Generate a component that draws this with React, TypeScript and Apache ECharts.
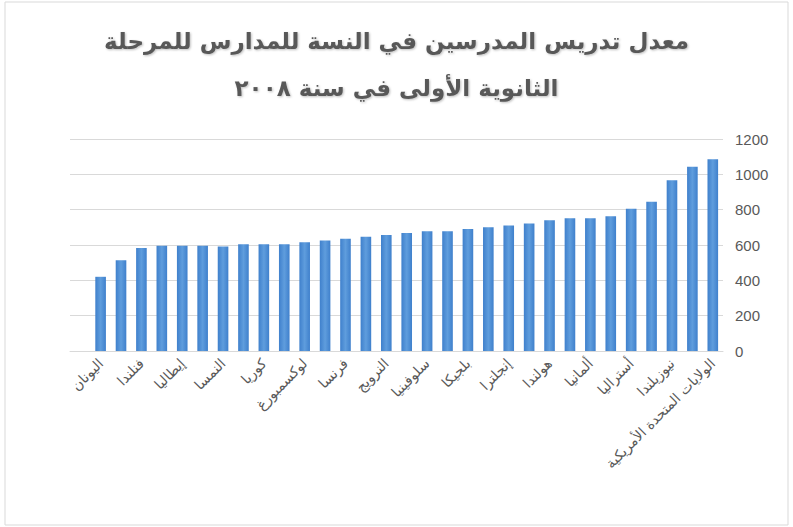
import React, { useEffect, useRef } from "react";
import * as echarts from "echarts";

const titleLines = [
  "معدل تدريس المدرسين في النسة للمدارس للمرحلة",
  "الثانوية الأولى في سنة ٢٠٠٨",
];

// first slot is an empty category (blank row in the source sheet)
const countries = [
  "",
  "اليونان",
  "بولندا",
  "فنلندا",
  "اليابان",
  "إيطاليا",
  "إسرائيل",
  "النمسا",
  "إستونيا",
  "كوريا",
  "آيسلندا",
  "لوكسمبورغ",
  "جمهورية التشيك",
  "فرنسا",
  "الدنمارك",
  "النرويج",
  "سلوفاكيا",
  "سلوفينيا",
  "السويد",
  "بلجيكا",
  "إسبانيا",
  "إنجلترا",
  "أيرلندا",
  "هولندا",
  "البرتغال",
  "ألمانيا",
  "المجر",
  "أستراليا",
  "اسكتلندا",
  "نيوزيلندا",
  "المكسيك",
  "الولايات المتحدة الأمريكية",
];

const teachingHours = [
  null, 420, 513, 583, 596, 596, 596, 592, 604, 604, 604, 615, 626, 636, 646,
  657, 668, 678, 678, 691, 700, 710, 721, 740, 751, 751, 763, 805, 845, 967,
  1043, 1085,
];

const yMin = 0;
const yMax = 1200;
const yStep = 200;

export default function App() {
  const ref = useRef<HTMLDivElement>(null);

  useEffect(() => {
    if (!ref.current) return;
    const chart = echarts.init(ref.current, undefined, { renderer: "svg" });
    chart.setOption({
      animation: false,
      backgroundColor: "#ffffff",
      title: {
        text: titleLines.join("\n"),
        left: "center",
        top: 12,
        textStyle: {
          fontFamily: "DejaVu Sans",
          fontWeight: "bold",
          fontSize: 23,
          lineHeight: 47,
          color: "#595959",
          textShadowColor: "rgba(0,0,0,0.25)",
          textShadowBlur: 2,
          textShadowOffsetX: 1,
          textShadowOffsetY: 1,
        },
      },
      graphic: [
        {
          type: "rect",
          shape: { x: 5, y: 2, width: 783, height: 523 },
          style: { fill: "none", stroke: "#d9d9d9", lineWidth: 1 },
          silent: true,
        },
      ],
      grid: { left: 70, right: 70, top: 139, bottom: 176 },
      xAxis: {
        type: "category",
        data: countries,
        axisTick: { show: false },
        axisLine: { show: true, lineStyle: { color: "#d9d9d9" } },
        axisLabel: {
          interval: (index: number) => index % 2 === 1,
          rotate: 45,
          margin: 10,
          fontFamily: "DejaVu Sans",
          fontSize: 14,
          color: "#595959",
        },
      },
      yAxis: {
        type: "value",
        position: "right",
        min: yMin,
        max: yMax,
        interval: yStep,
        axisLine: { show: false },
        axisTick: { show: false },
        splitLine: { lineStyle: { color: "#d9d9d9" } },
        axisLabel: {
          margin: 12,
          fontFamily: "Liberation Sans",
          fontSize: 15,
          color: "#595959",
          align: "left",
          formatter: (v: number) => String(v),
        },
      },
      series: [
        {
          type: "bar",
          data: teachingHours,
          barWidth: "52%",
          itemStyle: {
            color: new echarts.graphic.LinearGradient(0, 0, 1, 0, [
              { offset: 0, color: "#3f80cc" },
              { offset: 0.5, color: "#5f9ddd" },
              { offset: 1, color: "#3f80cc" },
            ]),
          },
        },
      ],
    });
    return () => chart.dispose();
  }, []);

  return (
    <div style={{ position: "fixed", left: 0, top: 0, width: 793, height: 527, background: "#fff" }}>
      <div ref={ref} style={{ width: 793, height: 527 }} />
    </div>
  );
}
